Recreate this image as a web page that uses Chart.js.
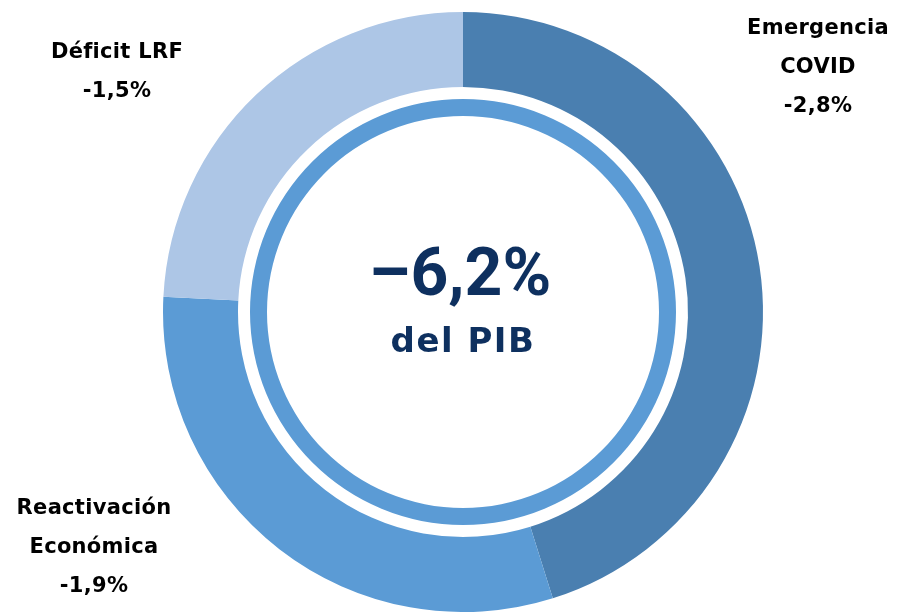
<!DOCTYPE html>
<html>
<head>
<meta charset="utf-8">
<script src="https://cdn.jsdelivr.net/npm/chart.js@4.4.1/dist/chart.umd.min.js"></script>
<style>
  html, body { margin: 0; padding: 0; background: #ffffff; }
  #wrap { width: 897px; height: 612px; position: relative; }
</style>
</head>
<body>
<div id="wrap"><canvas id="chartPIB"></canvas></div>
<script>
// datos del gráfico
var categorias = [["Emergencia", "COVID"], ["Reactivación", "Económica"], ["Déficit LRF"]];
var valores = [2.8, 1.9, 1.5];
var colores = ['#4a7fb0', '#5b9bd5', '#adc6e6'];
var unidad = "del PIB";

var total = valores.reduce(function (a, b) { return a + b; }, 0);

function formato(v) {
  return v.toFixed(1).replace('.', ',') + '%';
}

var fuenteEtiquetas = "'DejaVu Sans', sans-serif";
var fuenteCentro = "Roboto, 'Open Sans', sans-serif";

// posiciones de las etiquetas (relativas al centro del anillo)
var posEtiquetas = [
  { dx: 355, dy: -283 },
  { dx: -369, dy: 197 },
  { dx: -346, dy: -259 }
];

var etiquetasPlugin = {
  id: 'etiquetas',
  afterDraw: function (chart) {
    var ctx = chart.ctx;
    var arc = chart.getDatasetMeta(0).data[0];
    var cx = arc.x, cy = arc.y;
    ctx.save();
    ctx.textAlign = 'center';
    ctx.textBaseline = 'middle';
    ctx.fillStyle = '#000000';
    ctx.font = "bold 21px " + fuenteEtiquetas;
    ctx.letterSpacing = '0.3px';
    categorias.forEach(function (cat, i) {
      var lineas = cat.concat(['-' + formato(valores[i])]);
      var p = posEtiquetas[i];
      lineas.forEach(function (txt, j) {
        ctx.fillText(txt, cx + p.dx, cy + p.dy + j * 39);
      });
    });
    // texto central
    ctx.fillStyle = '#0e305f';
    ctx.letterSpacing = '0px';
    ctx.font = "bold 66px " + fuenteCentro;
    ctx.fillText('\u2013' + formato(total), cx - 3, cy - 34);
    ctx.letterSpacing = '1.5px';
    ctx.font = "bold 34px " + fuenteEtiquetas;
    ctx.fillText(unidad, cx, cy + 31);
    ctx.restore();
  }
};

var ctx = document.getElementById('chartPIB');
var myChart = new Chart(ctx, {
  type: 'doughnut',
  data: {
    labels: categorias.map(function (c) { return c.join(' '); }),
    datasets: [
      {
        data: valores,
        backgroundColor: colores,
        borderWidth: 0,
        weight: 75
      },
      {
        data: [total],
        backgroundColor: ['rgba(0,0,0,0)'],
        borderWidth: 0,
        weight: 12
      },
      {
        data: [total],
        backgroundColor: ['#5b9bd5'],
        borderWidth: 0,
        weight: 17
      }
    ]
  },
  options: {
    responsive: true,
    maintainAspectRatio: false,
    animation: false,
    cutout: 196,
    layout: {
      padding: { top: 12, bottom: 0, left: 29, right: 0 }
    },
    plugins: {
      legend: { display: false },
      tooltip: { enabled: false }
    }
  },
  plugins: [etiquetasPlugin]
});
</script>
</body>
</html>
